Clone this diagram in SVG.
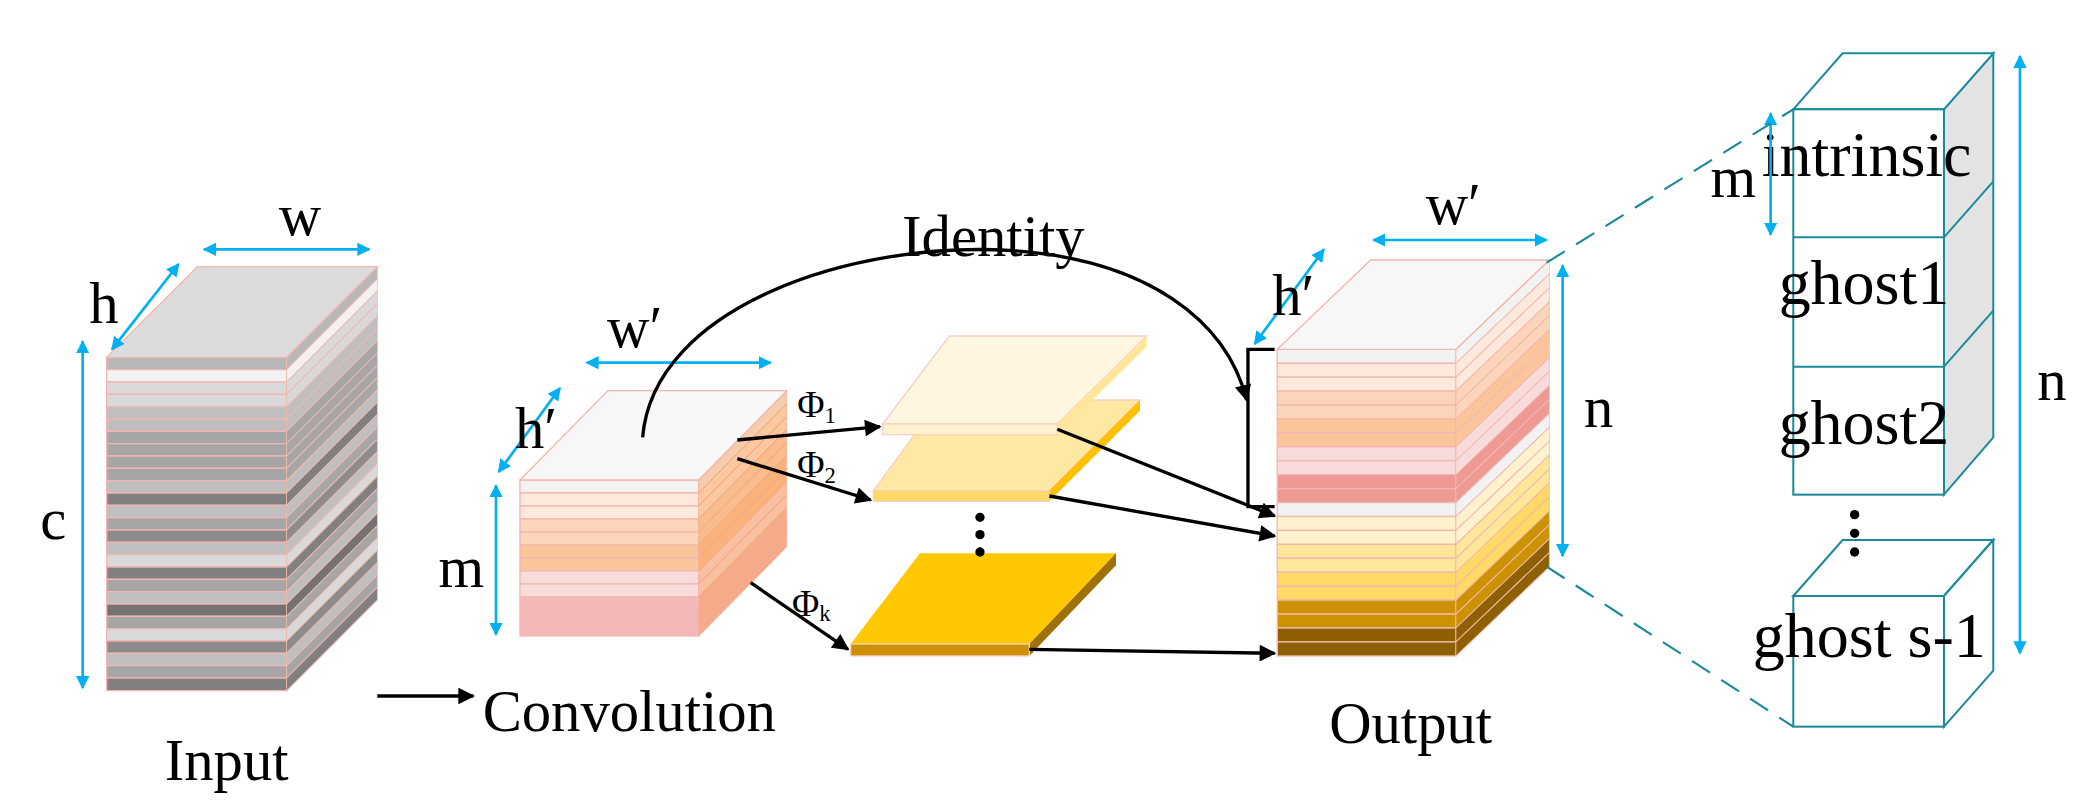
<svg xmlns="http://www.w3.org/2000/svg" width="2082" height="803" viewBox="0 0 2082 803">
<style>
.t{font-family:"Liberation Serif","Times New Roman",serif;fill:#000}
.b{stroke:#00b0f0;stroke-width:2;fill:none}
.k{stroke:#000;stroke-width:2.5;fill:none}
.s rect{stroke:#f4b6b0;stroke-width:1}
.tl{stroke:#1a8a9a;stroke-width:1.6}
</style>
<defs>
<marker id="ab" viewBox="0 0 10 10" refX="9" refY="5" markerWidth="5" markerHeight="5" orient="auto-start-reverse" markerUnits="strokeWidth"><path d="M0,0L10,5L0,10z" fill="#00b0f0"/></marker>
<marker id="ak" viewBox="0 0 10 10" refX="9" refY="5" markerWidth="5.5" markerHeight="5" orient="auto" markerUnits="strokeWidth"><path d="M0,0L10,5L0,10z" fill="#000"/></marker>
<g id="sIn" class="s">
<rect y="0" width="135" height="9.25" fill="#b8b8b8"/><rect y="9.25" width="135" height="9.25" fill="#f2f2f2"/><rect y="18.5" width="135" height="9.25" fill="#d9d9d9"/><rect y="27.75" width="135" height="9.25" fill="#d9d9d9"/><rect y="37" width="135" height="9.25" fill="#bfbfbf"/><rect y="46.25" width="135" height="9.25" fill="#bfbfbf"/><rect y="55.5" width="135" height="9.25" fill="#a6a6a6"/><rect y="64.75" width="135" height="9.25" fill="#a6a6a6"/><rect y="74" width="135" height="9.25" fill="#a6a6a6"/><rect y="83.25" width="135" height="9.25" fill="#a6a6a6"/><rect y="92.5" width="135" height="9.25" fill="#bfbfbf"/><rect y="101.75" width="135" height="9.25" fill="#808080"/><rect y="111" width="135" height="9.25" fill="#bfbfbf"/><rect y="120.25" width="135" height="9.25" fill="#a6a6a6"/><rect y="129.5" width="135" height="9.25" fill="#8c8c8c"/><rect y="138.75" width="135" height="9.25" fill="#bfbfbf"/><rect y="148" width="135" height="9.25" fill="#d9d9d9"/><rect y="157.25" width="135" height="9.25" fill="#808080"/><rect y="166.5" width="135" height="9.25" fill="#a6a6a6"/><rect y="175.75" width="135" height="9.25" fill="#bfbfbf"/><rect y="185" width="135" height="9.25" fill="#737373"/><rect y="194.25" width="135" height="9.25" fill="#a6a6a6"/><rect y="203.5" width="135" height="9.25" fill="#d9d9d9"/><rect y="212.75" width="135" height="9.25" fill="#8c8c8c"/><rect y="222" width="135" height="9.25" fill="#bfbfbf"/><rect y="231.25" width="135" height="9.25" fill="#a6a6a6"/><rect y="240.5" width="135" height="9.5" fill="#808080"/>
</g>
<g id="sConv" class="s">
<rect y="0" width="134" height="9.75" fill="#f2f2f2"/><rect y="9.75" width="134" height="9.75" fill="#fde9dc"/><rect y="19.5" width="134" height="9.75" fill="#fde9dc"/><rect y="29.25" width="134" height="9.75" fill="#fbd5b9"/><rect y="39" width="134" height="9.75" fill="#fbd5b9"/><rect y="48.75" width="134" height="9.75" fill="#fbc59c"/><rect y="58.5" width="134" height="9.75" fill="#fbc59c"/><rect y="68.25" width="134" height="9.75" fill="#f8dcdc"/><rect y="78" width="134" height="9.75" fill="#f8dcdc"/><rect y="87.75" width="134" height="9.75" fill="#f4b8b8"/><rect y="97.5" width="134" height="9.75" fill="#f4b8b8"/><rect y="107.25" width="134" height="9.75" fill="#f4b8b8"/>
</g>
<g id="sOut" class="s">
<rect y="0" width="134" height="10.45" fill="#f2f2f2"/><rect y="10.45" width="134" height="10.45" fill="#fde9dc"/><rect y="20.9" width="134" height="10.45" fill="#fde9dc"/><rect y="31.35" width="134" height="10.45" fill="#fbd5b9"/><rect y="41.8" width="134" height="10.45" fill="#fbd5b9"/><rect y="52.25" width="134" height="10.45" fill="#fbc59c"/><rect y="62.7" width="134" height="10.45" fill="#fbc59c"/><rect y="73.15" width="134" height="10.45" fill="#f8dcdc"/><rect y="83.6" width="134" height="10.45" fill="#f8dcdc"/><rect y="94.05" width="134" height="10.45" fill="#ee9a92"/><rect y="104.5" width="134" height="10.45" fill="#ee9a92"/><rect y="114.95" width="134" height="10.45" fill="#f2f2f2"/><rect y="125.4" width="134" height="10.45" fill="#fff2cc"/><rect y="135.85" width="134" height="10.45" fill="#fff2cc"/><rect y="146.3" width="134" height="10.45" fill="#ffe699"/><rect y="156.75" width="134" height="10.45" fill="#ffe699"/><rect y="167.2" width="134" height="10.45" fill="#ffd966"/><rect y="177.65" width="134" height="10.45" fill="#ffd966"/><rect y="188.1" width="134" height="10.45" fill="#cc9200"/><rect y="198.55" width="134" height="10.45" fill="#cc9200"/><rect y="209" width="134" height="10.45" fill="#8f6000"/><rect y="219.45" width="134" height="10.55" fill="#8f6000"/>
</g>
</defs>
<g transform="scale(1.3333)">
<g id="input">
<use href="#sIn" transform="translate(80,268)"/>
<use href="#sIn" transform="translate(215,268) skewY(-45) scale(0.5037,1)"/>
<polygon points="80,268 148,200 283,200 215,268" fill="#dcdcdc" stroke="#f4b6b0"/>
<line class="b" x1="153" y1="187" x2="277" y2="187" marker-start="url(#ab)" marker-end="url(#ab)"/>
<text class="t" x="225" y="176" font-size="44" text-anchor="middle">w</text>
<line class="b" x1="84" y1="262" x2="134" y2="198" marker-start="url(#ab)" marker-end="url(#ab)"/>
<text class="t" x="78" y="242" font-size="44" text-anchor="middle">h</text>
<line class="b" x1="62" y1="256" x2="62" y2="516" marker-start="url(#ab)" marker-end="url(#ab)"/>
<text class="t" x="40" y="404" font-size="44" text-anchor="middle">c</text>
<text class="t" x="170" y="585" font-size="44" text-anchor="middle">Input</text>
</g>
<g id="conv">
<use href="#sConv" transform="translate(390,360)"/>
<use href="#sConv" transform="translate(524,360) skewY(-45.4) scale(0.4925,1)"/>
<polygon points="524,360 590,293 590,410 524,477" fill="#f79646" fill-opacity="0.4"/>
<polygon points="390,360 456,293 590,293 524,360" fill="#f7f7f7" stroke="#f4b6b0"/>
<line class="b" x1="440" y1="272" x2="578" y2="272" marker-start="url(#ab)" marker-end="url(#ab)"/>
<text class="t" x="476" y="260" font-size="44" text-anchor="middle">w′</text>
<line class="b" x1="374" y1="354" x2="420" y2="291" marker-start="url(#ab)" marker-end="url(#ab)"/>
<text class="t" x="402" y="336" font-size="44" text-anchor="middle">h′</text>
<line class="b" x1="372" y1="364" x2="372" y2="476" marker-start="url(#ab)" marker-end="url(#ab)"/>
<text class="t" x="346" y="440" font-size="44" text-anchor="middle">m</text>
<text class="t" x="362" y="548" font-size="44">Convolution</text>
</g>
<g id="slabs">
<polygon points="655,368 705,300 855,300 787,368" fill="#ffe8a3" stroke="#f8d0c8"/>
<polygon points="787,368 855,300 855,308 787,376" fill="#ffc000"/>
<rect x="655" y="368" width="132" height="8" fill="#ffd966" stroke="#f8d0c8"/>
<polygon points="662,318 712,252 860,252 793,318" fill="#fff6e0" stroke="#f8d0c8"/>
<polygon points="793,318 860,252 860,260 793,326" fill="#ffe699"/>
<rect x="662" y="318" width="131" height="8" fill="#fff2cc" stroke="#f8d0c8"/>
<polygon points="638,483 690,415 837,415 772,483" fill="#ffc800"/>
<polygon points="772,483 837,415 837,424 772,492" fill="#a0700a"/>
<rect x="638" y="483" width="134" height="9" fill="#cc9000" stroke="#f8d0c8"/>
<circle cx="735" cy="388" r="3.5"/><circle cx="735" cy="401" r="3.5"/><circle cx="735" cy="414" r="3.5"/>
<text class="t" x="598" y="313" font-size="28">Φ<tspan font-size="17" dy="4">1</tspan></text>
<text class="t" x="598" y="358" font-size="28">Φ<tspan font-size="17" dy="4">2</tspan></text>
<text class="t" x="594" y="462" font-size="28">Φ<tspan font-size="17" dy="4">k</tspan></text>
</g>
<g id="output">
<use href="#sOut" transform="translate(958,262)"/>
<use href="#sOut" transform="translate(1092,262) skewY(-43.7) scale(0.5224,1)"/>
<polygon points="958,262 1028,195 1162,195 1092,262" fill="#f7f7f7" stroke="#f4b6b0"/>
<line class="b" x1="1030" y1="180" x2="1160" y2="180" marker-start="url(#ab)" marker-end="url(#ab)"/>
<text class="t" x="1090" y="168" font-size="44" text-anchor="middle">w′</text>
<line class="b" x1="941" y1="258" x2="993" y2="187" marker-start="url(#ab)" marker-end="url(#ab)"/>
<text class="t" x="970" y="236" font-size="44" text-anchor="middle">h′</text>
<line class="b" x1="1172" y1="199" x2="1172" y2="417" marker-start="url(#ab)" marker-end="url(#ab)"/>
<text class="t" x="1188" y="320" font-size="44">n</text>
<text class="t" x="1058" y="557" font-size="44" text-anchor="middle">Output</text>
</g>
<g id="ghostbox" stroke="#1a8a9a" stroke-width="1.5">
<polygon points="1458,82 1495,40 1495,328 1458,371" fill="#e3e3e3"/>
<polygon points="1345,82 1382,40 1495,40 1458,82" fill="#fff"/>
<rect x="1345" y="82" width="113" height="289" fill="#fff"/>
<line x1="1345" y1="178" x2="1458" y2="178"/><line x1="1345" y1="275" x2="1458" y2="275"/>
<line x1="1458" y1="178" x2="1495" y2="136"/><line x1="1458" y1="275" x2="1495" y2="233"/>
<polygon points="1345,447 1382,405 1495,405 1458,447" fill="#fff"/>
<polygon points="1458,447 1495,405 1495,503 1458,545" fill="#fff"/>
<rect x="1345" y="447" width="113" height="98" fill="#fff"/>
</g>
<g id="ghosttext">
<text class="t" x="1400" y="132" font-size="48" text-anchor="middle">intrinsic</text>
<text class="t" x="1398" y="228" font-size="48" text-anchor="middle">ghost1</text>
<text class="t" x="1398" y="333" font-size="48" text-anchor="middle">ghost2</text>
<text class="t" x="1402" y="493" font-size="48" text-anchor="middle">ghost s-1</text>
<circle cx="1391" cy="386" r="3.5"/><circle cx="1391" cy="400" r="3.5"/><circle cx="1391" cy="414" r="3.5"/>
<line class="b" x1="1328" y1="85" x2="1328" y2="176" marker-start="url(#ab)" marker-end="url(#ab)"/>
<text class="t" x="1300" y="148" font-size="44" text-anchor="middle">m</text>
<line class="b" x1="1515" y1="42" x2="1515" y2="490" marker-start="url(#ab)" marker-end="url(#ab)"/>
<text class="t" x="1528" y="300" font-size="44">n</text>
</g>
<g id="connectors">
<line class="tl" x1="1160" y1="197" x2="1345" y2="82" stroke-dasharray="16,10"/>
<line class="tl" x1="1160" y1="425" x2="1345" y2="545" stroke-dasharray="16,10"/>
<line class="k" x1="283" y1="522" x2="355" y2="522" marker-end="url(#ak)"/>
<path class="k" d="M482,328 C490,230 640,180 760,188 C860,195 920,240 935,300" marker-end="url(#ak)"/>
<text class="t" x="745" y="192" font-size="44" text-anchor="middle">Identity</text>
<polyline class="k" points="956,262 936,262 936,380 956,380"/>
<line class="k" x1="553" y1="330" x2="660" y2="320" marker-end="url(#ak)"/>
<line class="k" x1="553" y1="344" x2="653" y2="375" marker-end="url(#ak)"/>
<line class="k" x1="563" y1="437" x2="636" y2="487" marker-end="url(#ak)"/>
<line class="k" x1="793" y1="322" x2="956" y2="387" marker-end="url(#ak)"/>
<line class="k" x1="787" y1="372" x2="956" y2="402" marker-end="url(#ak)"/>
<line class="k" x1="772" y1="487" x2="956" y2="490" marker-end="url(#ak)"/>
</g>
</g>
</svg>
